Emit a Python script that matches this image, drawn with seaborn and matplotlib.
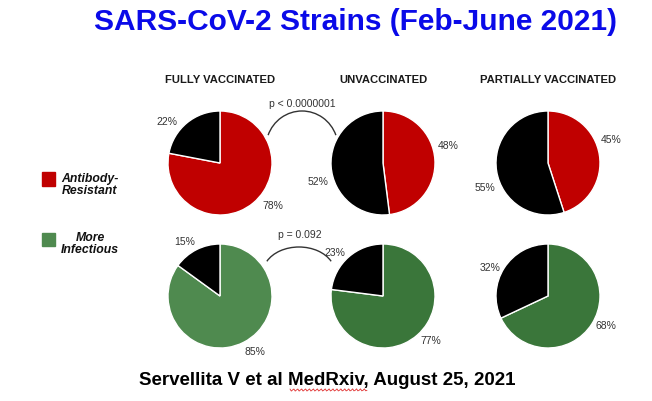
import numpy as np
import seaborn as sns
import matplotlib.pyplot as plt
from matplotlib.patches import Arc, Rectangle

sns.set_theme(style="white")
plt.rcParams["font.family"] = ["Liberation Sans", "DejaVu Sans"]

# data
groups = ["FULLY VACCINATED", "UNVACCINATED", "PARTIALLY VACCINATED"]
antibody_resistant = [78, 48, 45]
antibody_other = [22, 52, 55]
more_infectious = [85, 77, 68]
infectious_other = [15, 23, 32]
p_values = ["p < 0.0000001", "p = 0.092"]

red = "#C00000"
greens = ["#4F8A4F", "#3A763A", "#3A763A"]

W, H = 652, 402
fig = plt.figure(figsize=(W / 100, H / 100), dpi=100)

# overlay axes in pixel coords for texts and arcs
over = fig.add_axes([0, 0, 1, 1])
over.set_xlim(0, W)
over.set_ylim(H, 0)
over.axis("off")

centers_x = [220, 383, 548]
rows_y = [164, 297]
r = 52


def pie_at(cx, cy, vals, cols, rot_deg, dist):
    ax = fig.add_axes([(cx - r) / W, 1 - (cy + r) / H, 2 * r / W, 2 * r / H])
    wedges, texts, autotexts = ax.pie(
        vals, colors=cols, startangle=90, counterclock=False,
        autopct="%d%%", pctdistance=dist,
        wedgeprops=dict(edgecolor="white", linewidth=1),
        textprops=dict(fontsize=7.5, color="#333333"))
    # labels sit a bit off the wedge middles
    rot = np.deg2rad(rot_deg)
    for t in autotexts:
        x, y = t.get_position()
        t.set_position((x * np.cos(rot) - y * np.sin(rot),
                        x * np.sin(rot) + y * np.cos(rot)))
    ax.set_xlim(-1, 1)
    ax.set_ylim(-1, 1)
    ax.set_aspect("equal")
    ax.axis("off")


for i, g in enumerate(groups):
    pie_at(centers_x[i], rows_y[0], [antibody_resistant[i], antibody_other[i]],
           [red, "black"], 12, 1.3)
    pie_at(centers_x[i], rows_y[1], [more_infectious[i], infectious_other[i]],
           [greens[i], "black"], 6, 1.25)
    over.text(centers_x[i], 80, g, ha="center", va="center", fontsize=8.1,
              fontweight="bold", color="#1a1a1a")

# main title and source
over.text(356, 22, "SARS-CoV-2 Strains (Feb-June 2021)", ha="center", va="center",
          fontsize=21.5, fontweight="bold", color="#0A0AE8")
over.text(327, 381, "Servellita V et al MedRxiv, August 25, 2021", ha="center",
          va="center", fontsize=13.5, fontweight="bold", color="black")
# spell-check squiggle under "MedRxiv"
sx = np.linspace(290, 367, 60)
over.plot(sx, 391 + 1.2 * np.sin(sx * 1.6), color="#E03030", lw=0.6)

# legend
over.add_patch(Rectangle((42, 173), 13, 14, color=red))
over.text(90, 185, "Antibody-\nResistant", ha="center", va="center", fontsize=8.8,
          fontweight="bold", fontstyle="italic", color="#111111", linespacing=1.05)
over.add_patch(Rectangle((42, 234), 13, 13, color=greens[0]))
over.text(90, 244, "More\nInfectious", ha="center", va="center", fontsize=8.8,
          fontweight="bold", fontstyle="italic", color="#111111", linespacing=1.05)

# significance arcs
over.add_patch(Arc((302, 148.5), 72, 73, theta1=200, theta2=340, color="#333333", lw=1))
over.text(302, 104, p_values[0], ha="center", va="center", fontsize=7.5, color="#333333")
over.add_patch(Arc((299, 274), 72, 52, theta1=200, theta2=340, color="#333333", lw=1))
over.text(300, 235, p_values[1], ha="center", va="center", fontsize=7.5, color="#333333")

fig.savefig("out.png", dpi=100)
